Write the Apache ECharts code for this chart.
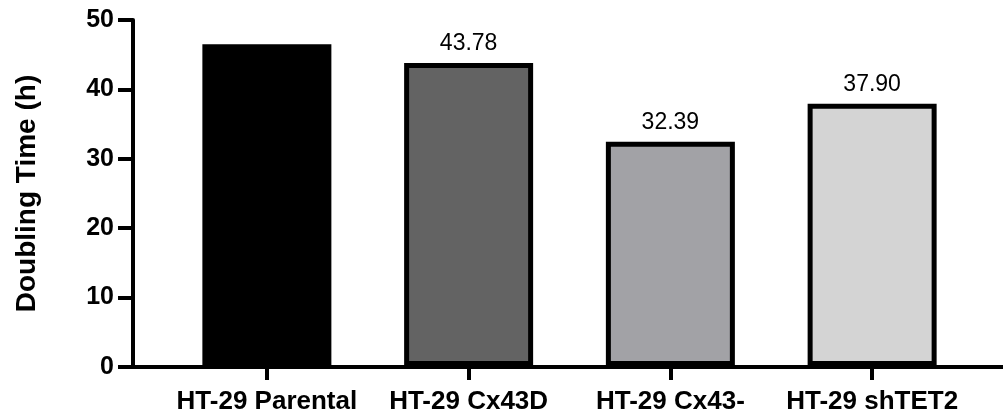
<!DOCTYPE html>
<html>
<head>
<meta charset="utf-8">
<script src="https://cdn.jsdelivr.net/npm/echarts@6/dist/echarts.min.js"></script>
<style>html,body{margin:0;padding:0;background:#fff}#c{width:1003px;height:415px}</style>
</head>
<body>
<div id="c"></div>
<script>
const categories = ['HT-29 Parental', 'HT-29 Cx43D', 'HT-29 Cx43-', 'HT-29 shTET2'];
const values = [46.5, 43.78, 32.39, 37.90];
const showValueLabel = [false, true, true, true];
const barColors = ['#000000', '#636363', '#a2a2a6', '#d4d4d4'];
const yTitle = 'Doubling Time (h)';

const FONT = 'Liberation Sans, Arial, sans-serif';
const chart = echarts.init(document.getElementById('c'), null, {renderer: 'canvas'});
chart.setOption({
  animation: false,
  backgroundColor: '#fff',
  grid: [
    {left: 133, right: 0, top: 20, bottom: 48},
    {left: 166, right: 30, top: 20, bottom: 48}
  ],
  xAxis: [
    {gridIndex: 0, type: 'category', data: [''], axisLine: {show: true, lineStyle: {color: '#000', width: 4}},
     axisTick: {show: false}, axisLabel: {show: false}},
    {gridIndex: 1, type: 'category', data: categories, axisLine: {show: false},
     axisTick: {show: true, alignWithLabel: true, length: 14, lineStyle: {color: '#000', width: 4}},
     axisLabel: {interval: 0, color: '#000', fontFamily: FONT, fontWeight: 'bold', fontSize: 26, margin: 23}}
  ],
  yAxis: [
    {gridIndex: 0, type: 'value', min: 0, max: 50, interval: 10,
     axisLine: {show: true, lineStyle: {color: '#000', width: 4}},
     axisTick: {show: true, length: 15, lineStyle: {color: '#000', width: 4}},
     axisLabel: {color: '#000', fontFamily: FONT, fontWeight: 'bold', fontSize: 25, margin: 19},
     splitLine: {show: false},
     name: yTitle, nameLocation: 'middle', nameGap: 92, nameRotate: 90,
     nameTextStyle: {color: '#000', fontFamily: FONT, fontWeight: 'bold', fontSize: 28}},
    {gridIndex: 1, type: 'value', min: 0, max: 50, interval: 10, show: false, splitLine: {show: false}}
  ],
  series: [{
    type: 'bar', xAxisIndex: 1, yAxisIndex: 1, barWidth: 129,
    data: values.map((v, i) => ({
      value: v,
      itemStyle: {color: barColors[i], borderColor: '#000', borderWidth: 5},
      label: {show: showValueLabel[i]}
    })),
    label: {position: 'top', distance: 8, color: '#000', fontFamily: FONT, fontSize: 23,
      formatter: p => p.value.toFixed(2)}
  }]
});
</script>
</body>
</html>
